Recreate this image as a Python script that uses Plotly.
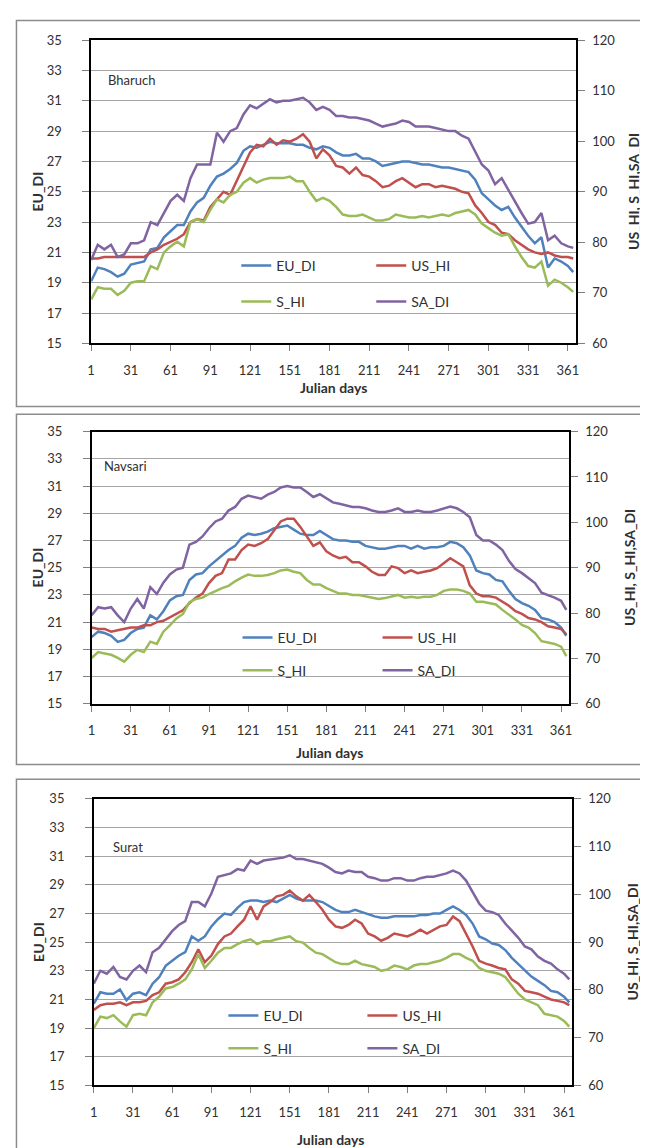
import plotly.graph_objects as go

# ---------------- data (every 5th Julian day) ----------------
days = list(range(1, 362, 5)) + [365]
x_ticks = list(range(1, 362, 30))
left_ticks = list(range(15, 36, 2))
right_ticks = list(range(60, 121, 10))
series_names = ["EU_DI", "US_HI", "S_HI", "SA_DI"]
stations = ["Bharuch", "Navsari", "Surat"]

# Bharuch
bharuch_eu_di = [19.1, 20.0, 19.9, 19.7, 19.4, 19.6, 20.2, 20.3, 20.4, 21.2,
                 21.3, 22.0, 22.4, 22.8, 22.8, 23.7, 24.3, 24.6, 25.4, 26.0,
                 26.2, 26.5, 26.9, 27.7, 28.0, 27.9, 28.1, 28.3, 28.2, 28.2,
                 28.2, 28.1, 28.1, 27.9, 27.8, 28.0, 27.9, 27.6, 27.4, 27.4,
                 27.5, 27.2, 27.2, 27.0, 26.7, 26.8, 26.9, 27.0, 27.0, 26.9,
                 26.8, 26.8, 26.7, 26.6, 26.6, 26.5, 26.4, 26.3, 25.8, 24.9,
                 24.5, 24.1, 23.8, 24.0, 23.3, 22.7, 22.1, 21.6, 22.0, 20.0,
                 20.6, 20.4, 20.1, 19.7]
bharuch_us_hi = [76.8, 76.8, 77.1, 77.1, 77.1, 77.1, 77.1, 77.1, 77.1, 78.0,
                 78.6, 79.5, 80.1, 80.7, 81.6, 84.0, 84.6, 84.3, 87.0, 88.5,
                 90.0, 89.4, 92.1, 94.8, 97.8, 99.3, 99.0, 100.5, 99.3, 100.2,
                 99.9, 100.5, 101.4, 99.9, 96.6, 98.4, 97.2, 95.1, 94.8, 93.6,
                 94.8, 93.3, 93.0, 92.1, 90.9, 91.2, 92.1, 92.7, 91.8, 90.9,
                 91.5, 91.5, 90.9, 91.2, 90.9, 90.6, 90.0, 89.7, 87.3, 85.8,
                 84.0, 83.4, 81.9, 81.6, 80.4, 79.5, 78.6, 78.0, 77.7, 78.0,
                 77.4, 77.1, 77.1, 76.8]
bharuch_s_hi = [68.7, 71.1, 70.8, 70.8, 69.6, 70.4, 72.0, 72.3, 72.3, 75.3,
                74.7, 78.0, 79.2, 80.1, 79.2, 84.0, 84.6, 84.0, 86.4, 88.5,
                87.9, 89.4, 90.0, 91.8, 92.7, 91.8, 92.4, 92.7, 92.7, 92.7,
                93.0, 92.1, 92.1, 90.0, 88.2, 88.8, 88.2, 87.0, 85.5, 85.2,
                85.2, 85.5, 84.9, 84.3, 84.3, 84.6, 85.5, 85.2, 84.9, 84.9,
                85.2, 84.9, 85.2, 85.5, 85.2, 85.8, 86.1, 86.4, 85.5, 83.7,
                82.8, 81.9, 81.3, 81.6, 79.2, 77.1, 75.3, 75.0, 76.2, 71.4,
                72.6, 72.0, 71.1, 70.2]
bharuch_sa_di = [76.5, 79.5, 78.6, 79.5, 77.1, 77.6, 79.8, 79.8, 80.4, 84.0,
                 83.4, 85.8, 88.2, 89.4, 88.2, 92.7, 95.4, 95.4, 95.4, 101.7,
                 99.9, 102.0, 102.6, 105.3, 107.1, 106.5, 107.4, 108.3, 107.7, 108.0,
                 108.0, 108.3, 108.6, 107.7, 106.2, 106.8, 106.2, 105.0, 105.0, 104.7,
                 104.7, 104.4, 104.1, 103.5, 102.9, 103.2, 103.5, 104.1, 103.8, 102.9,
                 102.9, 102.9, 102.6, 102.3, 102.0, 102.0, 101.1, 100.5, 97.8, 95.4,
                 94.2, 91.5, 92.7, 90.3, 88.2, 85.8, 83.7, 84.0, 85.8, 80.4,
                 81.3, 79.8, 79.2, 78.9]

# Navsari
navsari_eu_di = [19.9, 20.3, 20.2, 20.0, 19.55, 19.7, 20.2, 20.5, 20.6, 21.5,
                 21.2, 21.8, 22.6, 22.9, 23.0, 24.1, 24.5, 24.6, 25.1, 25.5,
                 25.9, 26.3, 26.6, 27.2, 27.5, 27.4, 27.5, 27.65, 27.9, 28.0,
                 28.1, 27.8, 27.5, 27.4, 27.4, 27.7, 27.4, 27.1, 27.0, 27.0,
                 26.9, 26.9, 26.6, 26.5, 26.4, 26.4, 26.5, 26.6, 26.6, 26.4,
                 26.6, 26.4, 26.5, 26.5, 26.6, 26.9, 26.8, 26.5, 25.9, 24.8,
                 24.6, 24.5, 24.1, 24.0, 23.3, 22.7, 22.4, 22.2, 21.9, 21.3,
                 21.2, 21.0, 20.6, 20.0]
navsari_us_hi = [76.8, 76.5, 76.5, 75.9, 76.2, 76.5, 76.8, 76.8, 77.3, 77.3,
                 78.0, 78.3, 79.1, 79.8, 80.6, 82.2, 83.4, 84.3, 86.6, 88.2,
                 88.8, 91.8, 91.8, 93.9, 95.1, 94.8, 95.4, 96.3, 98.3, 100.2,
                 100.8, 100.8, 99.0, 96.9, 94.8, 95.6, 93.6, 92.7, 92.1, 92.4,
                 91.2, 91.2, 90.3, 89.1, 88.4, 88.4, 90.3, 89.9, 88.8, 89.4,
                 88.8, 89.1, 89.4, 89.9, 90.9, 92.1, 91.2, 90.3, 86.1, 84.3,
                 83.7, 83.7, 83.4, 82.5, 81.6, 80.4, 79.8, 78.9, 78.6, 78.0,
                 77.1, 76.8, 76.5, 75.3]
navsari_s_hi = [70.1, 71.4, 71.1, 70.8, 70.1, 69.3, 70.8, 71.9, 71.4, 73.7,
                73.2, 75.9, 77.3, 78.8, 79.8, 82.4, 83.1, 83.4, 84.2, 84.9,
                85.5, 86.0, 87.0, 87.8, 88.5, 88.2, 88.2, 88.4, 88.8, 89.4,
                89.6, 89.1, 88.8, 87.3, 86.3, 86.3, 85.5, 84.9, 84.3, 84.3,
                84.0, 84.0, 83.7, 83.4, 83.1, 83.3, 83.7, 84.0, 83.4, 83.6,
                83.4, 83.6, 83.6, 84.0, 84.9, 85.2, 85.2, 84.9, 84.3, 82.5,
                82.5, 82.2, 81.9, 80.7, 79.7, 78.6, 77.4, 76.8, 75.6, 73.8,
                73.5, 73.2, 72.6, 70.5]
navsari_sa_di = [79.5, 81.3, 81.0, 81.3, 79.5, 78.0, 81.0, 83.1, 81.0, 85.7,
                 84.2, 86.7, 88.5, 89.6, 90.0, 95.1, 95.7, 96.9, 98.7, 100.2,
                 100.8, 102.6, 103.4, 105.2, 105.9, 105.6, 105.2, 106.1, 106.7, 107.7,
                 108.0, 107.7, 107.7, 106.7, 105.6, 106.2, 105.2, 104.4, 104.1, 103.8,
                 103.4, 103.4, 103.1, 102.6, 102.3, 102.3, 102.6, 103.1, 102.3, 102.3,
                 102.6, 102.3, 102.3, 102.6, 103.1, 103.5, 103.1, 102.3, 101.1, 97.2,
                 96.0, 96.0, 95.1, 93.9, 91.5, 89.7, 88.8, 87.6, 86.6, 84.5,
                 84.0, 83.4, 82.7, 80.7]

# Surat
surat_eu_di = [20.7, 21.5, 21.4, 21.4, 21.7, 20.95, 21.4, 21.5, 21.3, 22.1,
               22.55, 23.35, 23.7, 24.05, 24.3, 25.4, 25.1, 25.4, 26.1, 26.6,
               27.0, 26.9, 27.4, 27.8, 27.9, 27.9, 27.8, 27.9, 27.8, 28.05,
               28.3, 28.05, 27.9, 27.9, 27.9, 27.8, 27.5, 27.25, 27.1, 27.1,
               27.25, 27.1, 26.9, 26.8, 26.7, 26.7, 26.8, 26.8, 26.8, 26.8,
               26.9, 26.9, 27.0, 27.0, 27.25, 27.5, 27.25, 26.9, 26.3, 25.4,
               25.2, 24.9, 24.8, 24.45, 23.9, 23.45, 23.0, 22.6, 22.3, 22.0,
               21.6, 21.5, 21.2, 20.8]
surat_us_hi = [75.8, 76.8, 77.1, 77.1, 77.4, 76.8, 77.4, 77.4, 77.7, 78.9,
               79.5, 81.3, 81.6, 82.2, 83.7, 85.8, 88.5, 85.8, 87.2, 89.6,
               91.2, 91.8, 93.3, 94.7, 97.5, 94.7, 97.5, 98.4, 99.6, 99.9,
               100.8, 99.6, 98.7, 99.9, 98.4, 96.8, 94.7, 93.3, 93.0, 93.6,
               94.7, 93.9, 91.8, 91.2, 90.3, 90.9, 91.8, 91.5, 91.2, 91.8,
               92.6, 91.8, 92.6, 93.3, 93.6, 95.4, 94.4, 91.8, 89.1, 86.1,
               85.5, 85.1, 84.6, 84.3, 82.2, 81.3, 79.8, 79.5, 79.2, 78.6,
               78.0, 77.7, 77.4, 76.8]
surat_s_hi = [72.0, 74.4, 74.1, 74.7, 73.4, 72.3, 74.7, 75.0, 74.7, 77.4,
              78.6, 80.3, 80.6, 81.3, 82.2, 84.3, 87.5, 84.6, 86.1, 87.8,
              88.8, 88.8, 89.6, 90.2, 90.6, 89.6, 90.2, 90.2, 90.6, 90.9,
              91.2, 90.2, 89.9, 88.8, 87.8, 87.5, 86.7, 85.8, 85.4, 85.4,
              86.1, 85.4, 85.1, 84.8, 84.0, 84.3, 85.1, 84.8, 84.3, 85.1,
              85.4, 85.4, 85.8, 86.1, 86.7, 87.5, 87.5, 86.7, 86.1, 84.6,
              84.0, 83.7, 83.4, 82.7, 81.0, 79.2, 78.0, 77.4, 76.8, 75.0,
              74.7, 74.4, 73.5, 72.3]
surat_sa_di = [81.3, 84.0, 83.4, 84.8, 82.7, 82.2, 84.0, 85.1, 83.7, 87.9,
               88.8, 90.6, 92.3, 93.6, 94.4, 98.4, 98.4, 97.5, 100.2, 103.7,
               104.0, 104.4, 105.3, 105.0, 107.1, 106.4, 107.1, 107.3, 107.4, 107.7,
               108.2, 107.4, 107.4, 107.1, 106.7, 106.4, 105.6, 104.7, 104.4, 105.0,
               104.7, 104.7, 103.7, 103.4, 102.9, 102.9, 103.4, 103.4, 102.9, 102.9,
               103.4, 103.7, 103.7, 104.0, 104.4, 105.0, 104.4, 102.9, 100.5, 98.1,
               96.6, 96.3, 95.7, 93.9, 92.4, 90.9, 89.1, 88.5, 87.0, 86.1,
               85.5, 84.3, 83.4, 82.2]

# ---------------- layout helpers ----------------
W, H = 648, 1148
FONT = "Lato, 'Liberation Sans', sans-serif"
TXT = "#303030"
COLORS = {"EU_DI": "#4F81BD", "US_HI": "#C0504D", "S_HI": "#9BBB59", "SA_DI": "#8064A2"}


def px(x):
    return x / W


def py(y):
    return 1 - y / H


panels = [
    dict(name=stations[0], data=[bharuch_eu_di, bharuch_us_hi, bharuch_s_hi, bharuch_sa_di],
         plot=(80, 570, 24.5, 332), box=(4.5, 4.5, 760, 396), label=(95, 65),
         ltitle=26, rtitle=629, xtitle=(325, 377), legx=231.7, entry=90, legy=(253.5, 290)),
    dict(name=stations[1], data=[navsari_eu_di, navsari_us_hi, navsari_s_hi, navsari_sa_di],
         plot=(80.5, 563, 421.5, 697.5), box=(4.5, 404, 760, 759), label=(91, 456),
         ltitle=26, rtitle=624, xtitle=(321, 747), legx=233, entry=95, legy=(630.7, 664)),
    dict(name=stations[2], data=[surat_eu_di, surat_us_hi, surat_s_hi, surat_sa_di],
         plot=(82.7, 566, 794, 1084.5), box=(4.5, 774, 760, 1300), label=(100, 843),
         ltitle=26, rtitle=627, xtitle=(322, 1139), legx=218.7, entry=94, legy=(1014, 1047.3)),
]

fig = go.Figure()
layout = dict(width=W, height=H, margin=dict(l=0, r=0, t=0, b=0),
              paper_bgcolor="white", plot_bgcolor="white",
              font=dict(family=FONT, size=13, color=TXT), showlegend=True)
shapes, annotations = [], []

for i, p in enumerate(panels):
    xn = "x" if i == 0 else f"x{i + 1}"
    yl = "y" if i == 0 else f"y{2 * i + 1}"
    yr = f"y{2 * i + 2}"
    lg1 = "legend" if i == 0 else f"legend{2 * i + 1}"
    lg2 = f"legend{2 * i + 2}"
    x0, x1, ytop, ybot = p["plot"]

    for k, (nm, vals) in enumerate(zip(series_names, p["data"])):
        fig.add_trace(go.Scatter(
            x=days, y=vals, name=nm, mode="lines",
            line=dict(color=COLORS[nm], width=2.5),
            xaxis=xn, yaxis=yl if k == 0 else yr,
            legend=lg1 if k < 2 else lg2,
        ))

    xkey = "xaxis" if i == 0 else f"xaxis{i + 1}"
    ylkey = "yaxis" if i == 0 else f"yaxis{2 * i + 1}"
    yrkey = f"yaxis{2 * i + 2}"
    layout[xkey] = dict(domain=[px(x0), px(x1)], anchor=yl, range=[1, 367],
                        tickmode="array", tickvals=x_ticks, ticks="outside", ticklen=6,
                        tickcolor="#7f7f7f", showline=True, linecolor="black", linewidth=1.5,
                        mirror=True, showgrid=False, zeroline=False,
                        ticklabelstandoff=8, tickfont=dict(size=13, color=TXT))
    layout[ylkey] = dict(domain=[py(ybot), py(ytop)], anchor=xn, range=[15, 35],
                         tickmode="array", tickvals=left_ticks, ticks="outside", ticklen=7,
                         tickcolor="#7f7f7f", showline=True, linecolor="black", linewidth=1.5,
                         mirror=True, showgrid=True, gridcolor="#a6a6a6", gridwidth=1,
                         zeroline=False, ticklabelstandoff=18, tickfont=dict(size=13, color=TXT))
    layout[yrkey] = dict(overlaying=yl, side="right", anchor=xn, range=[60, 120],
                         tickmode="array", tickvals=right_ticks, ticks="outside", ticklen=7,
                         tickcolor="#7f7f7f", showline=True, linecolor="black", linewidth=1.5,
                         showgrid=False, zeroline=False, ticklabelstandoff=5,
                         tickfont=dict(size=13, color=TXT))

    for lg, yy in ((lg1, p["legy"][0]), (lg2, p["legy"][1])):
        layout[lg] = dict(orientation="h", x=px(p["legx"] - 5), xanchor="left",
                          y=py(yy), yanchor="middle", bgcolor="rgba(0,0,0,0)",
                          borderwidth=0, entrywidth=p["entry"], entrywidthmode="pixels",
                          font=dict(size=14, color=TXT), itemwidth=30)

    bx0, by0, bx1, by1 = p["box"]
    shapes.append(dict(type="rect", xref="paper", yref="paper",
                       x0=px(bx0), x1=px(bx1), y0=py(by1), y1=py(by0),
                       line=dict(color="#8c8c8c", width=1.5), layer="below"))
    annotations.append(dict(text=p["name"], xref="paper", yref="paper",
                            x=px(p["label"][0]), y=py(p["label"][1]), xanchor="left",
                            yanchor="middle", showarrow=False, font=dict(size=13, color=TXT)))
    ymid = (ytop + ybot) / 2
    annotations.append(dict(text="<b>EU_DI</b>", xref="paper", yref="paper",
                            x=px(p["ltitle"]), y=py(ymid), textangle=-90, showarrow=False,
                            xanchor="center", yanchor="middle", font=dict(size=14, color=TXT)))
    annotations.append(dict(text="<b>US_HI, S_HI,SA_DI</b>", xref="paper", yref="paper",
                            x=px(p["rtitle"]), y=py(ymid), textangle=-90, showarrow=False,
                            xanchor="center", yanchor="middle", font=dict(size=14, color=TXT)))
    annotations.append(dict(text="<b>Julian days</b>", xref="paper", yref="paper",
                            x=px(p["xtitle"][0]), y=py(p["xtitle"][1]), showarrow=False,
                            xanchor="center", yanchor="middle", font=dict(size=14, color=TXT)))

layout["shapes"] = shapes
layout["annotations"] = annotations
fig.update_layout(**layout)
fig.write_html("out.html")
